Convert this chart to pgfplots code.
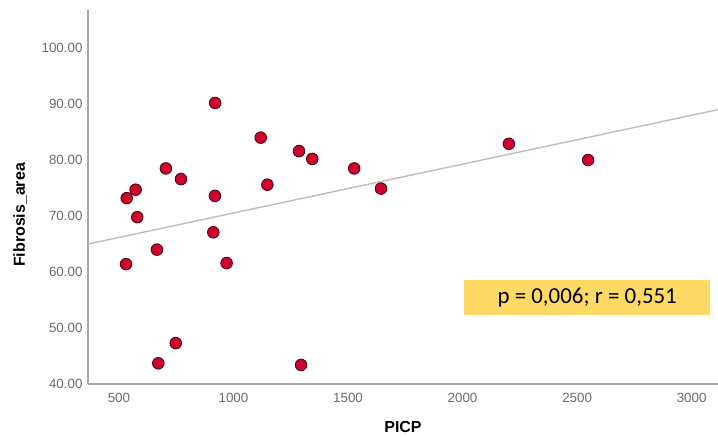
\documentclass[border=0pt]{standalone}
\usepackage{fontspec}
\setmainfont{Liberation Sans}
\newfontfamily\calibri{Carlito}
\usepackage{pgfplots}
\pgfplotsset{compat=1.18}
\definecolor{axisgray}{HTML}{A6A6A6}
\definecolor{ticktext}{HTML}{6B6B6B}
\definecolor{ptred}{HTML}{D0022E}
\definecolor{ptedge}{HTML}{4A0A14}
\definecolor{fitgray}{HTML}{BDBDBD}
\definecolor{boxyellow}{HTML}{FFD966}
\begin{document}
\begin{tikzpicture}
\begin{axis}[
    scale only axis,
    width=630bp, height=374bp,
    xmin=365, xmax=3115,
    ymin=40, ymax=106.8,
    axis x line*=bottom, axis y line*=left,
    axis line style={draw=axisgray, line width=1.2pt, -},
    major tick length=0pt,
    xtick={500,1000,1500,2000,2500,3000},
    ytick={40,50,60,70,80,90,100},
    /pgf/number format/assume math mode=true,
    x tick label style={/pgf/number format/1000 sep={}, font=\fontsize{13.4}{15}\selectfont, text=ticktext, yshift=-6bp},
    y tick label style={/pgf/number format/fixed, /pgf/number format/fixed zerofill, /pgf/number format/precision=2,
        font=\fontsize{13.4}{15}\selectfont, text=ticktext, xshift=-2bp},
    xlabel={PICP},
    ylabel={Fibrosis\_area},
    label style={font=\bfseries\fontsize{16}{18}\selectfont},
    x label style={at={(axis description cs:0.5,0)}, anchor=center, yshift=-43bp},
    y label style={at={(axis description cs:0,0.452)}, anchor=center, yshift=68bp},
    clip=false,
]
\coordinate (sw) at (rel axis cs:0,0);
\coordinate (ne) at (rel axis cs:1,1);
% fit line
\addplot[fitgray, line width=1.4pt] coordinates {(365,65.0) (3115,89.0)};
% scatter points
\addplot[only marks, mark=*, mark size=5.8bp,
    mark options={fill=ptred, draw=ptedge, line width=0.9pt}] coordinates {
(534,73.2) (573,74.7) (580,69.8) (705,78.5) (771,76.6) (920,90.2)
(919,73.6) (1119,84.0) (1148,75.6) (1286,81.6) (1344,80.2) (1527,78.5)
(531,61.4) (666,64.0) (912,67.1) (970,61.6) (748,47.3) (672,43.7)
(1295,43.4) (1644,74.9) (2202,82.9) (2548,80.0)
};
\fill[boxyellow] (axis cs:2007,52.3) rectangle (axis cs:3081,58.65);
\node[font=\calibri\fontsize{23}{26}\selectfont, text=black] at (axis cs:2544,55.45) {p = 0,006; r = 0,551};
\end{axis}
\pgfresetboundingbox
\path ([shift={(-88bp,-53bp)}]sw) rectangle ([shift={(0bp,10bp)}]ne);
\end{tikzpicture}
\end{document}
